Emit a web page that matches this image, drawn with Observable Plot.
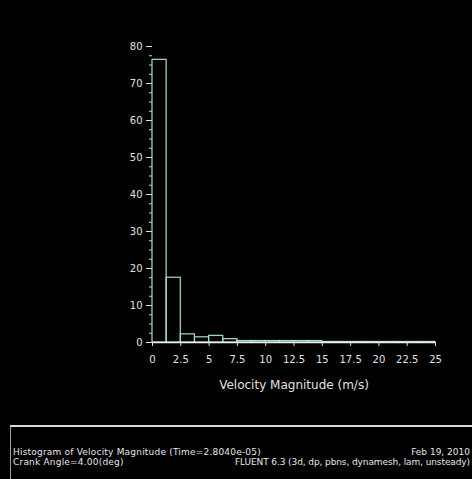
<!DOCTYPE html>
<html><head><meta charset="utf-8">
<script src="https://cdn.jsdelivr.net/npm/d3@7"></script>
<script src="https://cdn.jsdelivr.net/npm/@observablehq/plot@0.6"></script>
<style>
html,body{margin:0;padding:0;background:#000;width:472px;height:479px;overflow:hidden;}
#chart svg{display:block;}
#footer{position:relative;height:52px;margin-left:10px;border-top:2px solid #d8d8d8;border-left:1px solid #9a9a9a;color:#e6e6e6;font-family:"DejaVu Sans",sans-serif;font-size:9px;line-height:9.5px;overflow:hidden;}
#footer .l{position:absolute;left:2px;top:21px;white-space:nowrap;letter-spacing:0.2px;}
#footer .r1{position:absolute;right:2px;top:21px;white-space:nowrap;}
#footer .r2{position:absolute;right:2px;top:30.5px;white-space:nowrap;letter-spacing:-0.1px;}
</style></head>
<body>
<div id="chart"></div>
<div id="footer">
<div class="l">Histogram of Velocity Magnitude (Time=2.8040e-05)<br>Crank Angle=4.00(deg)</div>
<div class="r1">Feb 19, 2010</div>
<div class="r2">FLUENT 6.3 (3d, dp, pbns, dynamesh, lam, unsteady)</div>
</div>
<script>
const binStarts = [0,1.25,2.5,3.75,5,6.25,7.5,8.75,10,11.25,12.5,13.75,15,16.25,17.5,18.75,20,21.25,22.5,23.75];
const binWidth = 1.25;
const percents = [76.4,17.5,2.2,1.4,1.8,0.9,0.4,0.4,0.4,0.4,0.4,0.4,0.15,0.15,0.15,0.15,0.15,0.15,0.15,0.15];
const xTicks = [0,2.5,5,7.5,10,12.5,15,17.5,20,22.5,25];
const xTickLabels = ["0","2.5","5","7.5","10","12.5","15","17.5","20","22.5","25"];
const yTicks = [0,10,20,30,40,50,60,70,80];
const yMinorTicks = d3.range(0,80.01,2.5);
const xTitle = "Velocity Magnitude (m/s)";

const bins = binStarts.map((s,i)=>({x1:s,x2:s+binWidth,y:percents[i]}));

const fg = "#e0e0e0";
const font = "'DejaVu Sans',sans-serif";

const plot = Plot.plot({
  width: 472,
  height: 425,
  marginLeft: 152,
  marginRight: 37,
  marginTop: 46,
  marginBottom: 83,
  style: {background:"#000", color: fg, fontFamily: font, fontSize: "10px"},
  x: {domain:[0,25]},
  y: {domain:[0,80]},
  marks: [
    Plot.rectY(bins, {x1:"x1", x2:"x2", y:"y", fill:"none", stroke:"#a9dcd6", strokeWidth:1.2}),
    Plot.ruleY([0], {stroke:"#f0f0f0", strokeWidth:1.6}),
    Plot.axisY({ticks:yMinorTicks, tickSize:3, text:null, label:null, stroke:"#cfcfcf"}),
    Plot.axisY({ticks:yTicks, tickSize:6, tickPadding:4, label:null, stroke:"#dcdcdc", fontSize:"10px"}),
    Plot.axisX({ticks:xTicks, tickFormat:(d,i)=>xTickLabels[i], tickSize:4, tickPadding:9, label:null, stroke:"#dcdcdc", fontSize:"10px"}),
    Plot.text([xTitle], {frameAnchor:"bottom", dy:46, text:d=>d, fill:fg, fontSize:12})
  ]
});
document.getElementById("chart").appendChild(plot);
</script>
</body></html>
